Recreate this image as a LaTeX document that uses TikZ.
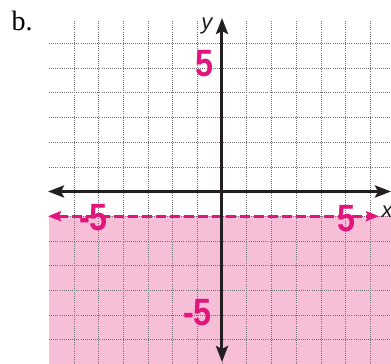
\documentclass[tikz,border=0pt]{standalone}
\usepackage{fontspec}
\setmainfont{Liberation Serif}
\newfontfamily\digfont{Liberation Sans}
\newfontfamily\varfont{Liberation Sans}
\usetikzlibrary{arrows.meta}
\definecolor{mag}{RGB}{228,20,125}
\definecolor{pinkfill}{RGB}{247,190,215}
\definecolor{axisblack}{RGB}{35,31,32}
\begin{document}
\begin{tikzpicture}[x=24.7pt,y=24.7pt,
  gridline/.style={black!55, line width=0.55pt, dash pattern=on 0.7pt off 1.4pt},
  axisline/.style={axisblack, line width=3pt,
    {Stealth[length=16pt,width=12pt,inset=3pt]}-{Stealth[length=16pt,width=12pt,inset=3pt]}},
  boundline/.style={mag, line width=3pt, dash pattern=on 10pt off 4pt,
    {Stealth[length=13pt,width=10pt,inset=2pt]}-{Stealth[length=13pt,width=10pt,inset=2pt]}},
  numlab/.style={text=mag, inner sep=0pt, font=\digfont\bfseries\fontsize{38}{38}\selectfont},
  varlab/.style={text=axisblack, inner sep=0pt, font=\varfont\itshape\fontsize{22}{22}\selectfont},
  partlab/.style={text=black, inner sep=0pt, anchor=base west, font=\fontsize{28}{28}\selectfont}
]
\useasboundingbox (-222pt,-172.5pt) rectangle (169pt,191.5pt);
% shaded half-plane y < -1
\fill[pinkfill] (-7,-1) rectangle (169pt,-172.5pt);
% grid
\foreach \i in {-6,...,6} {
  \draw[gridline] (\i,-172.5pt) -- (\i,171.5pt);
  \draw[gridline] (-7,\i) -- (169pt,\i);
}
% boundary line y = -1
\coordinate (bl) at (-174pt,-1);
\coordinate (br) at (157pt,-1);
\draw[boundline] (bl) -- (br);
% axes
\coordinate (xl) at (-174pt,0);
\coordinate (xr) at (169pt,0);
\coordinate (yb) at (0,-170.5pt);
\coordinate (yt) at (0,173.5pt);
\draw[axisline] (xl) -- (xr);
\draw[axisline] (yb) -- (yt);
% labels
\node[varlab] (ylab) at (-15pt,165.5pt) {y};
\node[varlab] (xlab) at (165pt,-20.5pt) {x};
\node[numlab] (yfive) at (-18pt,128pt) {\scalebox{0.85}[1]{5}};
\node[numlab] (ymfive) at (-24.5pt,-121pt) {\scalebox{0.85}[1]{-5}};
\node[numlab] (xmfive) at (-128.5pt,-26pt) {\scalebox{0.85}[1]{-5}};
\node[numlab] (xfive) at (124.5pt,-27.5pt) {\scalebox{0.85}[1]{5}};
\node[partlab] (part) at (-210.5pt,160.8pt) {b.};
\end{tikzpicture}
\end{document}
